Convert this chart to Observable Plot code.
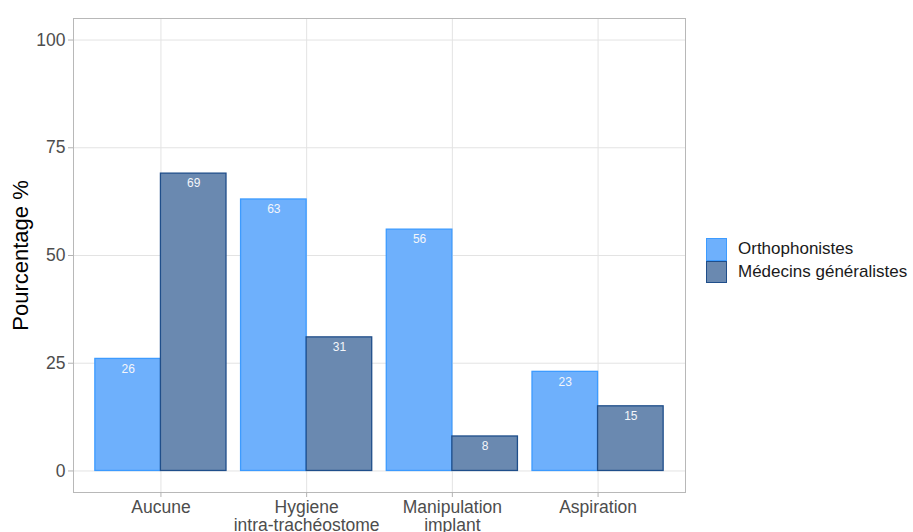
<!DOCTYPE html>
<html><head><meta charset="utf-8">
<script src="https://cdn.jsdelivr.net/npm/d3@7"></script>
<script src="https://cdn.jsdelivr.net/npm/@observablehq/plot@0.6"></script>
<style>
body{margin:0;background:#fff;font-family:"Liberation Sans",Arial,sans-serif;overflow:hidden}
#wrap{position:relative;width:913px;height:532px;overflow:hidden}
.legend{position:absolute;left:706px;top:238px;font-size:17px;color:#1a1a1a;white-space:nowrap;width:210px}
.item{display:flex;align-items:center;height:22.5px}
.sw{width:21px;height:22.5px;margin-right:11px;box-sizing:border-box;border:1px solid;flex:none}
</style></head><body><div id="wrap"></div>
<script>
const categories = ["Aucune", "Hygiene\nintra-trachéostome", "Manipulation\nimplant", "Aspiration"];
const series = ["Orthophonistes", "Médecins généralistes"];
const orthophonistes = [26, 63, 56, 23];
const medecins = [69, 31, 8, 15];
const yTicks = [0, 25, 50, 75, 100];
const fills = ["#6eb0fc", "#6a89b0"];
const strokes = ["#3d9bff", "#1f4e8a"];

const values = [orthophonistes, medecins];
const data = [];
categories.forEach((c, i) => {
  series.forEach((s, k) => {
    const x1 = i - 0.45 + k * 0.45;
    data.push({i, cat: c, s, k, value: values[k][i], x1, x2: x1 + 0.45, xm: x1 + 0.225});
  });
});

const chart = Plot.plot({
  width: 913, height: 532,
  marginLeft: 73, marginRight: 228, marginTop: 18, marginBottom: 40,
  style: {fontFamily: '"Liberation Sans", Arial, sans-serif', background: "#fff"},
  x: {domain: [-0.6, 3.6]},
  y: {domain: [-5, 105]},
  marks: [
    Plot.ruleY(yTicks, {stroke: "#e3e3e3", strokeWidth: 1}),
    Plot.ruleX(d3.range(categories.length), {stroke: "#e3e3e3", strokeWidth: 1}),
    Plot.rectY(data, {x1: "x1", x2: "x2", y1: 0, y2: "value",
      fill: d => fills[d.k], stroke: d => strokes[d.k], strokeWidth: 1.3}),
    Plot.text(data, {x: "xm", y: "value", text: d => String(d.value), fill: "#f4f6fa", dy: 10, fontSize: 12}),
    Plot.frame({stroke: "#b8b8b8", strokeWidth: 1}),
    Plot.axisY(yTicks, {tickSize: 5, tickPadding: 3, stroke: "#b3b3b3", fill: "#4d4d4d", fontSize: 17.5,
      label: "Pourcentage %", labelAnchor: "center", labelOffset: 61, labelArrow: "none"}),
    Plot.axisX(d3.range(categories.length), {tickSize: 5, tickPadding: 2, stroke: "#b3b3b3", fill: "#4d4d4d",
      fontSize: 17.5, lineHeight: 1.05, tickFormat: i => categories[i], label: null})
  ]
});

// style the y label
chart.querySelectorAll("text").forEach(t => {
  if (t.textContent.trim() === "Pourcentage %") { t.setAttribute("fill", "#000"); t.style.fontSize = "22px"; t.setAttribute("font-size", "22"); }
});

const wrap = document.getElementById("wrap");
wrap.appendChild(chart);
const legend = document.createElement("div");
legend.className = "legend";
series.forEach((s, k) => {
  const it = document.createElement("div");
  it.className = "item";
  const sw = document.createElement("span");
  sw.className = "sw";
  sw.style.background = fills[k];
  sw.style.borderColor = strokes[k];
  it.appendChild(sw);
  const lab = document.createElement("span");
  lab.textContent = s;
  it.appendChild(lab);
  legend.appendChild(it);
});
wrap.appendChild(legend);
</script></body></html>
